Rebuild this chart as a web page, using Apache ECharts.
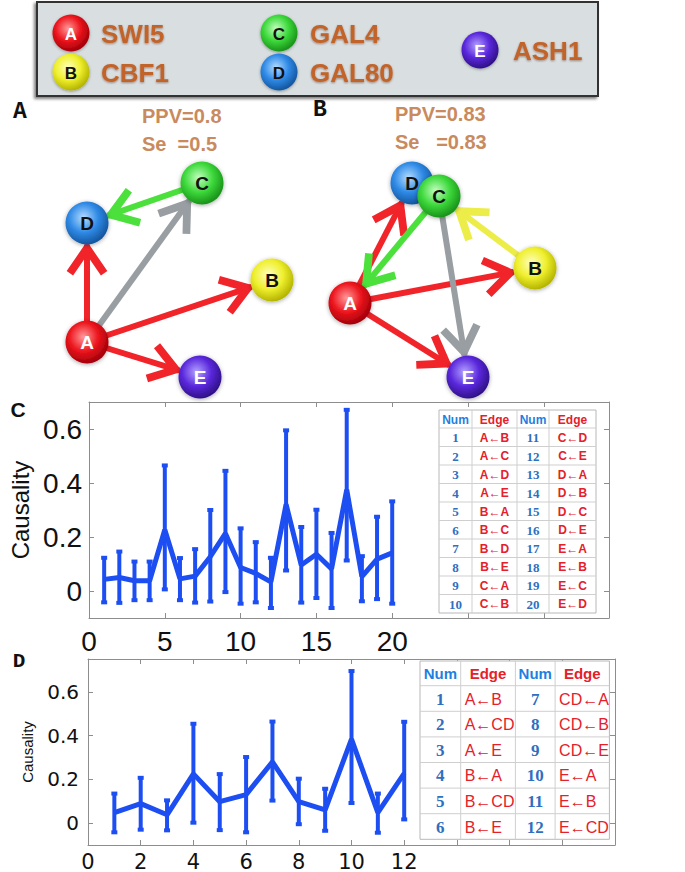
<!DOCTYPE html>
<html><head><meta charset="utf-8">
<script src="https://cdn.jsdelivr.net/npm/echarts@6/dist/echarts.min.js"></script>
<style>html,body{margin:0;padding:0;background:#fff}#c{width:685px;height:872px}</style>
</head><body><div id="c"></div>
<script>
// ================= DATA =================
const geneIds = ['A', 'B', 'C', 'D', 'E'];
const geneNames = ['SWI5', 'CBF1', 'GAL4', 'GAL80', 'ASH1'];

// network A (inferred) : [source, target]
const netAEdges = [['C', 'D'], ['A', 'C'], ['A', 'D'], ['A', 'B'], ['A', 'E']];
const netAEdgeColorKey = ['C', 'gray', 'A', 'A', 'A'];
// network B (inferred)
const netBEdges = [['A', 'D'], ['C', 'A'], ['A', 'B'], ['B', 'C'], ['C', 'E'], ['A', 'E']];
const netBEdgeColorKey = ['A', 'C', 'A', 'B', 'gray', 'A'];
const metricsA = ['PPV=0.8', 'Se\u00a0\u00a0=0.5'];
const metricsB = ['PPV=0.83', 'Se\u00a0\u00a0\u00a0=0.83'];

// panel C : causality of 20 edges (mean and error-bar ends)
const cIndex = [1, 2, 3, 4, 5, 6, 7, 8, 9, 10, 11, 12, 13, 14, 15, 16, 17, 18, 19, 20];
const cMean = [0.043, 0.050, 0.038, 0.038, 0.227, 0.045, 0.055, 0.127, 0.213, 0.087, 0.065, 0.034, 0.321, 0.096, 0.136, 0.082, 0.375, 0.053, 0.118, 0.141];
const cLow = [-0.042, -0.044, -0.034, -0.034, 0.006, -0.034, -0.043, -0.039, -0.004, -0.047, -0.042, -0.063, 0.076, -0.043, -0.026, -0.063, 0.113, -0.038, -0.030, -0.047];
const cHigh = [0.123, 0.146, 0.109, 0.109, 0.465, 0.122, 0.155, 0.300, 0.445, 0.232, 0.181, 0.123, 0.595, 0.237, 0.301, 0.215, 0.671, 0.129, 0.275, 0.332];
const cXTicks = [0, 5, 10, 15, 20];
const cYTicks = [0, 0.2, 0.4, 0.6];

// panel D : causality of 12 edges
const dIndex = [1, 2, 3, 4, 5, 6, 7, 8, 9, 10, 11, 12];
const dMean = [0.048, 0.089, 0.038, 0.225, 0.098, 0.130, 0.280, 0.098, 0.060, 0.384, 0.048, 0.227];
const dLow = [-0.042, -0.030, -0.033, 0.002, -0.032, -0.042, 0.103, -0.005, -0.035, 0.092, -0.044, 0.017];
const dHigh = [0.135, 0.207, 0.104, 0.454, 0.224, 0.302, 0.464, 0.203, 0.157, 0.695, 0.135, 0.463];
const dXTicks = [0, 2, 4, 6, 8, 10, 12];
const dYTicks = [0, 0.2, 0.4, 0.6];

// tables
const tableHeaders = ['Num', 'Edge', 'Num', 'Edge'];
const tableCNum = [1, 2, 3, 4, 5, 6, 7, 8, 9, 10, 11, 12, 13, 14, 15, 16, 17, 18, 19, 20];
const tableCEdge = ['A\u2190B', 'A\u2190C', 'A\u2190D', 'A\u2190E', 'B\u2190A', 'B\u2190C', 'B\u2190D', 'B\u2190E', 'C\u2190A', 'C\u2190B',
                    'C\u2190D', 'C\u2190E', 'D\u2190A', 'D\u2190B', 'D\u2190C', 'D\u2190E', 'E\u2190A', 'E\u2190B', 'E\u2190C', 'E\u2190D'];
const tableDNum = [1, 2, 3, 4, 5, 6, 7, 8, 9, 10, 11, 12];
const tableDEdge = ['A\u2190B', 'A\u2190CD', 'A\u2190E', 'B\u2190A', 'B\u2190CD', 'B\u2190E',
                    'CD\u2190A', 'CD\u2190B', 'CD\u2190E', 'E\u2190A', 'E\u2190B', 'E\u2190CD'];

// ================= LAYOUT / STYLE =================
const nodePosA = { A: [87, 342], B: [272, 280], C: [202, 183], D: [87, 223], E: [200, 377] };
const nodePosB = { A: [350, 303], B: [535, 268], D: [412, 183], C: [439, 196], E: [468, 377] };
const nodeOrderB = ['A', 'B', 'D', 'C', 'E'];
const legendPos = { A: [71, 33], B: [71, 72], C: [279, 33], D: [279, 72], E: [480, 50] };
const legendTextX = { A: 101, B: 101, C: 310, D: 310, E: 513 };

const nodeColors = {
  A: ['#ff9a9a', '#ec141c', '#a3000a'],
  B: ['#ffffc0', '#efef2e', '#b5b500'],
  C: ['#c2ffc0', '#3cd83a', '#1a931a'],
  D: ['#b5dcff', '#2f8ae6', '#14569f'],
  E: ['#b3a0ff', '#5a28dc', '#301088']
};
const nodeTextColor = { A: '#ffffff', B: '#111111', C: '#111111', D: '#111111', E: '#ffffff' };
const edgeColors = { A: '#f1242a', B: '#eded4a', C: '#4be03c', gray: '#999ea2' };
const BLUE = '#1d4ef2';
const FRAME = '#8d8d8d';
// open chevron arrow head; tip near the symbol centre (invisible corner points square the box)
const chevron = 'path://M-4.8,-9.8L-4.8,-9.8M34.8,29.8L34.8,29.8M15,8L28,27L23.9,29.8L15,16.9L6.1,29.8L2,27Z';

function grad(id) {
  const c = nodeColors[id];
  return { type: 'radial', x: 0.42, y: 0.38, r: 0.62,
    colorStops: [{ offset: 0, color: c[0] }, { offset: 0.55, color: c[1] }, { offset: 1, color: c[2] }] };
}

function netSeries(pos, order, edges, colorKeys) {
  return {
    type: 'graph', coordinateSystem: 'cartesian2d', xAxisIndex: 4, yAxisIndex: 4,
    symbolSize: 43, silent: true, z: 5,
    edgeSymbol: ['none', chevron], edgeSymbolSize: [0, 62],
    label: { show: true, position: 'inside', fontFamily: 'Liberation Sans', fontWeight: 'bold', fontSize: 19 },
    lineStyle: { width: 6, opacity: 1, curveness: 0 },
    data: order.map(id => ({
      name: id, value: pos[id],
      itemStyle: { color: grad(id), shadowBlur: 4, shadowColor: 'rgba(0,0,0,0.35)', shadowOffsetY: 1 },
      label: { color: nodeTextColor[id] }
    })),
    links: edges.map((e, i) => ({ source: e[0], target: e[1], lineStyle: { color: edgeColors[colorKeys[i]] } }))
  };
}

function errRender(params, api) {
  const x = api.value(0);
  const p1 = api.coord([x, api.value(1)]);
  const p2 = api.coord([x, api.value(2)]);
  const cw = 6, ch = 4;
  return { type: 'group', children: [
    { type: 'line', shape: { x1: p1[0], y1: p1[1], x2: p2[0], y2: p2[1] }, style: { stroke: BLUE, lineWidth: 4 } },
    { type: 'rect', shape: { x: p1[0] - cw / 2, y: p1[1] - ch / 2, width: cw, height: ch }, style: { fill: BLUE } },
    { type: 'rect', shape: { x: p2[0] - cw / 2, y: p2[1] - ch / 2, width: cw, height: ch }, style: { fill: BLUE } }
  ] };
}

function txt(text, x, y, font, fill, align, valign, extraStyle) {
  return { type: 'text', x: x, y: y, z: 20,
    style: Object.assign({ text: String(text), font: font, fill: fill, align: align || 'left', verticalAlign: valign || 'middle',
             textAlign: align || 'left', textVerticalAlign: valign || 'middle' }, extraStyle || {}) };
}
function hline(x1, y1, x2, y2, color) {
  return { type: 'line', z: 19, shape: { x1: x1, y1: y1, x2: x2, y2: y2 }, style: { stroke: color, lineWidth: 1 } };
}

function buildTable(x0, y0, colW, headH, rowH, nums, edges, nRows, f) {
  const els = [];
  const W = colW.reduce((a, b) => a + b, 0), H = headH + rowH * nRows;
  els.push({ type: 'rect', z: 18, shape: { x: x0, y: y0, width: W, height: H }, style: { fill: '#fff', stroke: '#b8b8b8', lineWidth: 1 } });
  const colX = [x0];
  for (let i = 0; i < colW.length; i++) colX.push(colX[i] + colW[i]);
  for (let i = 1; i < colW.length; i++) els.push(hline(colX[i], y0, colX[i], y0 + H, '#cfcfcf'));
  for (let r = 0; r < nRows; r++) els.push(hline(x0, y0 + headH + r * rowH, x0 + W, y0 + headH + r * rowH, '#cfcfcf'));
  tableHeaders.forEach((h, i) => {
    els.push(txt(h, colX[i] + colW[i] / 2, y0 + headH / 2 + 0.5, f.head, i % 2 === 0 ? '#1f7fe0' : '#e5202a', 'center'));
  });
  for (let r = 0; r < nRows; r++) {
    const cy = y0 + headH + r * rowH + rowH / 2 + 0.5;
    [[nums[r], edges[r]], [nums[r + nRows], edges[r + nRows]]].forEach((pair, k) => {
      const c = k * 2;
      els.push(txt(pair[0], colX[c] + colW[c] / 2, cy, f.num, '#2f6fbf', 'center'));
      if (f.edgeAlign === 'left') els.push(txt(pair[1], colX[c + 1] + 4, cy, f.edge, '#e5202a', 'left'));
      else els.push(txt(pair[1], colX[c + 1] + colW[c + 1] / 2, cy, f.edge, '#e5202a', 'center'));
    });
  }
  return els;
}

// ================= GRAPHIC ELEMENTS =================
const graphics = [];
// legend box
graphics.push({ type: 'rect', z: 10, shape: { x: 37, y: 2, width: 561, height: 94 },
  style: { fill: '#d9dfe0', stroke: '#333', lineWidth: 2, shadowBlur: 3, shadowOffsetX: -2, shadowOffsetY: 2, shadowColor: 'rgba(0,0,0,0.5)' } });
geneIds.forEach((id, i) => {
  const p = legendPos[id];
  graphics.push({ type: 'circle', z: 12, shape: { cx: p[0], cy: p[1], r: 18.5 },
    style: { fill: grad(id), shadowBlur: 3, shadowColor: 'rgba(0,0,0,0.35)', shadowOffsetY: 1 } });
  graphics.push(txt(id, p[0], p[1] + 1, 'bold 17px "Liberation Sans"', nodeTextColor[id], 'center'));
  graphics.push(txt(geneNames[i], legendTextX[id], p[1] + 1, 'bold 26px "Liberation Sans"', '#c2632a', 'left', 'middle',
    { textShadowColor: 'rgba(80,30,0,0.45)', textShadowBlur: 2, textShadowOffsetY: 1 }));
});
// metrics
graphics.push(txt(metricsA[0], 142, 116, 'bold 20px "Liberation Sans"', '#c98a5e'));
graphics.push(txt(metricsA[1], 142, 144, 'bold 20px "Liberation Sans"', '#c98a5e'));
graphics.push(txt(metricsB[0], 395, 114, 'bold 20px "Liberation Sans"', '#c98a5e'));
graphics.push(txt(metricsB[1], 395, 142, 'bold 20px "Liberation Sans"', '#c98a5e'));
// panel letters
graphics.push(txt('A', 20, 112, 'bold 23px "Liberation Mono"', '#111', 'center'));
graphics.push(txt('B', 320, 110, 'bold 23px "Liberation Mono"', '#111', 'center'));
graphics.push(txt('C', 18, 409, 'bold 21px "Liberation Sans"', '#111', 'center'));
graphics.push(txt('D', 19, 661, 'bold 21px "Liberation Mono"', '#111', 'center'));
// tables
buildTable(439, 410, [33, 45, 32, 47], 18, 18.5, tableCNum, tableCEdge, 10,
  { head: 'bold 12px "Liberation Sans"', num: 'bold 13px "Liberation Serif"', edge: 'bold 12px "Liberation Sans"', edgeAlign: 'center' })
  .forEach(e => graphics.push(e));
buildTable(420, 661, [40.7, 54.7, 39.7, 54.3], 24.7, 25.6, tableDNum, tableDEdge, 6,
  { head: 'bold 15px "Liberation Sans"', num: 'bold 17px "Liberation Serif"', edge: '16px "Liberation Sans"', edgeAlign: 'left' })
  .forEach(e => graphics.push(e));

// ================= AXES =================
function frameX(grid, pos, min, max, interval, labels, fontSize, margin, family) {
  return { type: 'value', gridIndex: grid, position: pos, min: min, max: max, interval: interval,
    axisLine: { show: true, onZero: false, lineStyle: { color: FRAME, width: 1 } },
    axisTick: { show: true, inside: true, length: 5, lineStyle: { color: FRAME } },
    axisLabel: labels ? { customValues: labels, fontSize: fontSize, color: '#111', fontFamily: family, margin: margin } : { show: false },
    splitLine: { show: false } };
}
function frameY(grid, pos, min, max, ticks, labels, fontSize, margin, family, name) {
  const ax = { type: 'value', gridIndex: grid, position: pos, min: min, max: max,
    axisLine: { show: true, onZero: false, lineStyle: { color: FRAME, width: 1 } },
    axisTick: { show: true, inside: true, length: 5, customValues: ticks, lineStyle: { color: FRAME } },
    axisLabel: labels ? { customValues: labels, fontSize: fontSize, color: '#111', fontFamily: family, margin: margin } : { show: false },
    splitLine: { show: false } };
  if (name) Object.assign(ax, name);
  return ax;
}

const option = {
  animation: false,
  backgroundColor: '#ffffff',
  grid: [
    { left: 89, top: 402, width: 520, height: 216 },
    { left: 88, top: 659, width: 527, height: 186 },
    { left: 0, top: 0, width: 685, height: 872 }
  ],
  xAxis: [
    frameX(0, 'bottom', 0, 34.3, 5, cXTicks, 28, 9, 'Liberation Sans'),
    frameX(0, 'top', 0, 34.3, 5, null),
    frameX(1, 'bottom', 0, 20, 2, dXTicks, 21, 6, 'DejaVu Sans'),
    frameX(1, 'top', 0, 20, 2, null),
    { type: 'value', gridIndex: 2, min: 0, max: 685, show: false }
  ],
  yAxis: [
    frameY(0, 'left', -0.1, 0.7, cYTicks, cYTicks, 28, 7, 'Liberation Sans',
      { name: 'Causality', nameLocation: 'middle', nameGap: 55, nameTextStyle: { fontSize: 24, fontFamily: 'Liberation Sans', color: '#111' } }),
    frameY(0, 'right', -0.1, 0.7, cYTicks, null),
    frameY(1, 'left', -0.1, 0.75, dYTicks, dYTicks, 20, 9, 'DejaVu Sans',
      { name: 'Causality', nameLocation: 'middle', nameGap: 53, nameTextStyle: { fontSize: 15, fontFamily: 'Liberation Sans', color: '#111' } }),
    frameY(1, 'right', -0.1, 0.75, dYTicks, null),
    { type: 'value', gridIndex: 2, min: 0, max: 872, inverse: true, show: false }
  ],
  graphic: { elements: graphics },
  series: [
    { type: 'line', xAxisIndex: 0, yAxisIndex: 0, symbol: 'none', z: 4,
      lineStyle: { color: BLUE, width: 5 }, data: cIndex.map((x, i) => [x, cMean[i]]) },
    { type: 'custom', xAxisIndex: 0, yAxisIndex: 0, z: 3, renderItem: errRender, encode: { x: 0, y: [1, 2] },
      data: cIndex.map((x, i) => [x, cLow[i], cHigh[i]]) },
    { type: 'line', xAxisIndex: 2, yAxisIndex: 2, symbol: 'none', z: 4,
      lineStyle: { color: BLUE, width: 5 }, data: dIndex.map((x, i) => [x, dMean[i]]) },
    { type: 'custom', xAxisIndex: 2, yAxisIndex: 2, z: 3, renderItem: errRender, encode: { x: 0, y: [1, 2] },
      data: dIndex.map((x, i) => [x, dLow[i], dHigh[i]]) },
    netSeries(nodePosA, geneIds, netAEdges, netAEdgeColorKey),
    netSeries(nodePosB, nodeOrderB, netBEdges, netBEdgeColorKey)
  ]
};

const chart = echarts.init(document.getElementById('c'), null, { renderer: 'svg' });
chart.setOption(option);
</script>
</body></html>
